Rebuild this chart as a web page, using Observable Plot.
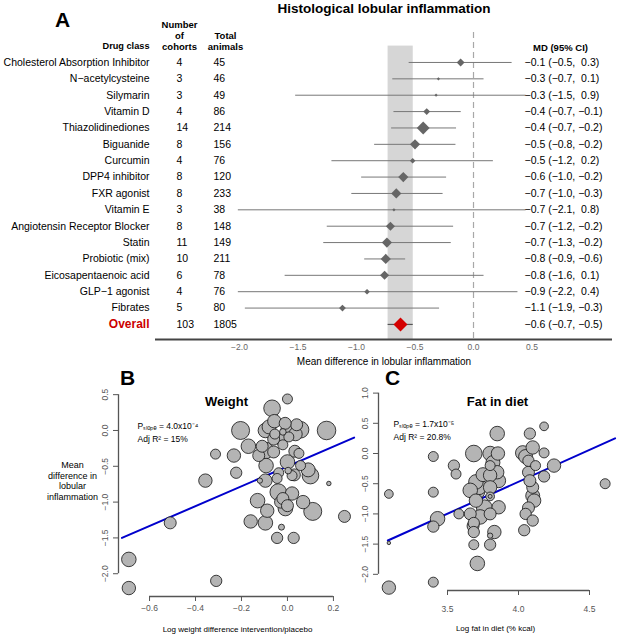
<!DOCTYPE html>
<html><head><meta charset="utf-8">
<script src="https://cdn.jsdelivr.net/npm/d3@7"></script>
<script src="https://cdn.jsdelivr.net/npm/@observablehq/plot@0.6"></script>
<style>
body{margin:0;background:#fff;}
#fig{position:relative;width:617px;height:636px;overflow:hidden;background:#fff;}
#fig > div{position:absolute;}
svg{overflow:visible;}
</style></head><body>
<div id="fig"><div id="pa" style="left:0;top:0"></div><div id="pb" style="left:0;top:365px"></div><div id="pc" style="left:355px;top:365px"></div></div>
<script>
const FONT = "'Liberation Sans', Arial, Helvetica, sans-serif";

// ---------- Panel A data ----------
const drugs = ["Cholesterol Absorption Inhibitor","N\u2212acetylcysteine","Silymarin","Vitamin D","Thiazolidinediones","Biguanide","Curcumin","DPP4 inhibitor","FXR agonist","Vitamin E","Angiotensin Receptor Blocker","Statin","Probiotic (mix)","Eicosapentaenoic acid","GLP\u22121 agonist","Fibrates"];
const cohorts = [4,3,3,4,14,8,4,8,8,3,8,11,10,6,4,5];
const animals = [45,46,49,86,214,156,76,120,233,38,148,149,211,78,76,80];
const md     = [-0.11,-0.30,-0.32,-0.40,-0.43,-0.50,-0.52,-0.60,-0.66,-0.68,-0.71,-0.74,-0.75,-0.76,-0.91,-1.12];
const ciLow  = [-0.55,-0.69,-1.52,-0.68,-0.70,-0.845,-1.21,-0.956,-1.04,-2.01,-1.25,-1.28,-0.93,-1.61,-2.01,-1.95];
const ciHigh = [0.33,0.09,0.9,-0.105,-0.145,-0.15,0.17,-0.23,-0.26,0.8,-0.17,-0.19,-0.58,0.09,0.38,-0.29];
const weights = [12,2,2,9,32,20,6,20,20,2,16,20,20,16,6,9];
const mdLabels = ["\u22120.1 (\u22120.5,  0.3)","\u22120.3 (\u22120.7,  0.1)","\u22120.3 (\u22121.5,  0.9)","\u22120.4 (\u22120.7, \u22120.1)","\u22120.4 (\u22120.7, \u22120.2)","\u22120.5 (\u22120.8, \u22120.2)","\u22120.5 (\u22121.2,  0.2)","\u22120.6 (\u22121.0, \u22120.2)","\u22120.7 (\u22121.0, \u22120.3)","\u22120.7 (\u22122.1,  0.8)","\u22120.7 (\u22121.2, \u22120.2)","\u22120.7 (\u22121.3, \u22120.2)","\u22120.8 (\u22120.9, \u22120.6)","\u22120.8 (\u22121.6,  0.1)","\u22120.9 (\u22122.2,  0.4)","\u22121.1 (\u22121.9, \u22120.3)"];
const overall = {name: "Overall", cohorts: 103, animals: 1805, md: -0.624, lo: -0.73, hi: -0.515, label: "\u22120.6 (\u22120.7, \u22120.5)"};
const xTicksA = [-2, -1.5, -1, -0.5, 0, 0.5];
const titleA = "Histological lobular inflammation";
const xLabelA = "Mean difference in lobular inflammation";
const ciClip = 0.45;

// ---------- Panel B data ----------
const bX = [0.00,-0.067,-0.204,0.17,-0.057,-0.096,0.0,0.057,0.035,-0.055,-0.02,-0.03,0.006,-0.17,-0.233,-0.096,-0.02,-0.06,0.032,-0.125,0.0,-0.093,0.057,0.10,-0.223,-0.038,0.02,-0.096,-0.045,0.003,-0.12,0.18,-0.04,0.02,-0.13,-0.03,0.068,-0.009,0.11,-0.088,0.248,-0.16,-0.096,-0.026,-0.045,0.027,-0.313,-0.357,-0.51,-0.69,-0.69,-0.31,-0.08,0.04,-0.01,0.09,-0.02,0.0,-0.11,0.05,-0.06,0.03];
const bY = [0.44,0.31,0.0,0.0,0.13,0.0,0.0,0.01,-0.05,-0.05,-0.02,-0.12,-0.09,-0.22,-0.35,-0.28,-0.2,-0.3,-0.29,-0.35,-0.44,-0.49,-0.49,-0.63,-0.59,-0.59,-0.63,-0.70,-0.67,-0.56,-0.70,-0.74,-0.86,-0.88,-0.98,-1.0,-1.0,-1.09,-1.13,-1.12,-1.2,-1.27,-1.29,-1.35,-1.5,-1.5,-0.33,-0.70,-1.29,-1.80,-2.2,-2.1,0.05,0.08,0.1,-0.55,-0.95,-1.05,-0.22,-0.32,-0.12,-0.62];
const bW = [25,69,81,86,45,53,45,69,45,25,11,36,25,53,45,69,25,36,36,36,53,53,25,69,32,25,25,45,25,11,7,5,69,45,53,36,45,53,81,45,36,45,53,9,32,32,25,45,36,53,45,32,49,36,36,49,36,36,36,25,36,36];
const bLineX = [-0.72, 0.29];
const bLineY = [-1.50, -0.10];
const xTicksB = [-0.6, -0.4, -0.2, 0.0, 0.2];
const yTicksB = [-2.0, -1.5, -1.0, -0.5, 0.0, 0.5];
const statsB = ["P\u209B\u2097\u2092\u209A\u2091 = 4.0x10\u207B\u2074", "Adj R\u00B2 = 15%"];

// ---------- Panel C data ----------
const cX = [4.18,3.85,4.08,3.685,3.80,3.855,4.03,4.10,4.18,3.40,4.07,3.80,3.545,3.56,4.25,4.12,3.85,3.80,4.07,4.18,3.70,3.66,3.80,4.10,3.40,3.80,3.80,3.70,3.86,4.11,3.73,3.66,3.80,3.58,3.43,3.40,4.05,4.10,4.04,3.685,3.685,3.83,3.80,3.685,3.80,3.71,3.40,3.087,3.087,3.087,4.61,3.72,3.75,3.82,3.76,3.68,4.08,4.10,4.07,4.05,3.86,3.70];
const cY = [0.45,0.33,0.33,0.0,0.0,0.0,0.01,0.10,0.01,-0.05,-0.12,-0.2,-0.2,-0.34,-0.2,-0.2,-0.31,-0.36,-0.31,-0.38,-0.47,-0.61,-0.56,-0.56,-0.64,-0.71,-0.71,-0.78,-0.89,-0.78,-1.05,-1.0,-1.0,-1.0,-1.08,-1.21,-1.0,-1.11,-1.27,-1.15,-1.30,-1.30,-1.36,-1.51,-1.51,-1.82,-2.13,-0.67,-1.48,-2.22,-0.50,-0.55,-0.35,-0.15,-0.9,-1.2,-0.45,-0.70,-0.9,-0.05,-0.45,-0.62];
const cW = [19,53,32,69,53,45,53,45,25,25,32,25,32,25,45,25,45,45,36,32,53,53,45,36,25,19,4,45,45,45,53,36,36,25,53,32,32,32,32,32,32,45,7,25,32,53,25,19,3,45,25,64,49,49,64,36,36,49,36,49,49,81];
const cLineX = [3.08, 4.68];
const cLineY = [-1.44, 0.25];
const xTicksC = [3.5, 4.0, 4.5];
const yTicksC = [-2.0, -1.5, -1.0, -0.5, 0.0, 0.5, 1.0];
const statsC = ["P\u209B\u2097\u2092\u209A\u2091 = 1.7x10\u207B\u2075", "Adj R\u00B2 = 20.8%"];

const fmt1 = d3.format(".1f");
const baseStyle = {fontFamily: FONT, fontSize: "10px", background: "transparent", overflow: "visible"};
const C_ = {textAnchor: "middle", lineAnchor: "middle"};

// ---------- Panel A ----------
const rows = drugs.map((name, i) => ({i, name, cohorts: cohorts[i], animals: animals[i], md: md[i], lo: ciLow[i], hi: ciHigh[i], w: weights[i], label: mdLabels[i]}));
const ov = {i: drugs.length, ...overall};
const all = [...rows, ov];
const yDomA = [-1.83, 16.92];
const xDomA = [-2.718, 1.188];
const bandTopRow = -1;

const A = Plot.plot({
  width: 617, height: 372,
  marginLeft: 155, marginRight: 5, marginTop: 32, marginBottom: 33,
  style: baseStyle,
  x: {domain: xDomA, label: null},
  y: {domain: yDomA, reverse: true, axis: null},
  r: {type: "sqrt", domain: [0, 32], range: [0, 5.8]},
  marks: [
    Plot.rect([ov], {x1: "lo", x2: "hi", y1: () => bandTopRow, y2: () => yDomA[1], fill: "#d6d6d6"}),
    Plot.ruleX([0], {stroke: "#a8a8a8", strokeDasharray: "6,4", strokeWidth: 1.2}),
    Plot.ruleY(rows, {y: "i", x1: "lo", x2: d => Math.min(d.hi, ciClip), stroke: "#777", strokeWidth: 1}),
    Plot.dot(rows, {x: "md", y: "i", r: "w", symbol: "diamond2", fill: "#666", stroke: "none"}),
    Plot.ruleY([ov], {y: "i", x1: "lo", x2: "hi", stroke: "#555", strokeWidth: 1.2}),
    Plot.dot([ov], {x: "md", y: "i", r: 6.3, symbol: "diamond2", fill: "#d40000", stroke: "none"}),
    Plot.text(rows, {y: "i", text: "name", frameAnchor: "left", dx: -6, textAnchor: "end", lineAnchor: "middle", fontSize: 10.5}),
    Plot.text([ov], {y: "i", text: "name", frameAnchor: "left", dx: -6, textAnchor: "end", lineAnchor: "middle", fontSize: 12, fontWeight: "bold", fill: "#cc0000"}),
    Plot.text(all, {y: "i", text: d => String(d.cohorts), frameAnchor: "left", dx: 21, textAnchor: "start", lineAnchor: "middle", fontSize: 10.5}),
    Plot.text(all, {y: "i", text: d => String(d.animals), frameAnchor: "left", dx: 58, textAnchor: "start", lineAnchor: "middle", fontSize: 10.5}),
    Plot.text(all, {y: "i", text: "label", frameAnchor: "right", dx: -88, textAnchor: "start", lineAnchor: "middle", fontSize: 10.5}),
    Plot.text(["A"], {frameAnchor: "top-left", dx: -93, dy: -12, ...C_, fontSize: 21, fontWeight: "bold"}),
    Plot.text([titleA], {frameAnchor: "top", dy: -24, ...C_, fontSize: 13.5, fontWeight: "bold"}),
    Plot.text(["Drug class"], {frameAnchor: "top-left", dx: -6, dy: 14, textAnchor: "end", lineAnchor: "middle", fontSize: 9.2, fontWeight: "bold"}),
    Plot.text(["Number\nof\ncohorts"], {frameAnchor: "top-left", dx: 24, dy: 3, ...C_, fontSize: 9.5, fontWeight: "bold", lineHeight: 1.15}),
    Plot.text(["Total\nanimals"], {frameAnchor: "top-left", dx: 70, dy: 8.5, ...C_, fontSize: 9.5, fontWeight: "bold", lineHeight: 1.15}),
    Plot.text(["MD (95% CI)"], {frameAnchor: "top-left", dx: 405, dy: 15, ...C_, fontSize: 9.5, fontWeight: "bold"}),
    Plot.ruleY([yDomA[1]], {stroke: "#444", strokeWidth: 2}),
    Plot.axisX({ticks: xTicksA, tickSize: 0, tickPadding: 4, tickFormat: fmt1, color: "#666", fontSize: 8.5, label: null}),
    Plot.text([xLabelA], {frameAnchor: "bottom", dy: 22, ...C_, fontSize: 10})
  ]
});
document.getElementById("pa").append(A);

// ---------- scatter panel builder ----------
function scatter(opts) {
  const pts = opts.xs.map((x, i) => ({x, y: opts.ys[i], w: opts.ws[i]}));
  const line = opts.lineX.map((x, i) => ({x, y: opts.lineY[i]}));
  const xt = opts.xTicks, yt = opts.yTicks;
  return Plot.plot({
    width: opts.width, height: 271,
    marginLeft: opts.ml, marginRight: opts.mr, marginTop: 20, marginBottom: opts.mb,
    style: baseStyle,
    x: {domain: opts.xDom, label: null},
    y: {domain: opts.yDom, label: null},
    r: {type: "sqrt", domain: [0, 100], range: [0, 10]},
    marks: [
      Plot.line(line, {x: "x", y: "y", stroke: "#0000cc", strokeWidth: 2}),
      Plot.dot(pts, {x: "x", y: "y", r: "w", fill: "#b4b4b4", stroke: "#111", strokeWidth: 0.8}),
      Plot.ruleY([opts.yDom[0]], {x1: xt[0], x2: xt[xt.length - 1], stroke: "#555", strokeWidth: 1.3}),
      Plot.axisX({ticks: xt, tickSize: 5, tickPadding: opts.xPad, tickFormat: fmt1, color: "#555", fontSize: 8.5, label: null}),
      Plot.ruleX([opts.xDom[0]], {y1: yt[0], y2: yt[yt.length - 1], stroke: "#555", strokeWidth: 1.3}),
      Plot.axisY({ticks: yt, tickSize: 5, tickFormat: () => "", color: "#555", label: null}),
      Plot.text(yt, {y: d => d, text: d => fmt1(d), frameAnchor: "left", dx: -13, rotate: -90, ...C_, fontSize: 8.5, fill: "#555"}),
      Plot.text([opts.letter], {frameAnchor: "top-left", dx: opts.letterDx, dy: -7, ...C_, fontSize: 21, fontWeight: "bold"}),
      Plot.text([opts.title], {frameAnchor: "top-left", dx: opts.titleDx, dy: 16, ...C_, fontSize: 13, fontWeight: "bold"}),
      Plot.text([opts.stats.join("\n")], {frameAnchor: "top-left", dx: opts.statsDx, dy: opts.statsDy, textAnchor: "start", lineAnchor: "top", fontSize: 8.5, lineHeight: 1.55}),
      Plot.text([opts.xLabel], {frameAnchor: "bottom-left", dx: opts.xLabelDx, dy: opts.xLabelDy, ...C_, fontSize: 8}),
      ...(opts.yLabel ? [Plot.text([opts.yLabel], {frameAnchor: "top-left", dx: -46, dy: 95, ...C_, fontSize: 9, lineHeight: 1.2})] : [])
    ]
  });
}

const B = scatter({
  xs: bX, ys: bY, ws: bW, lineX: bLineX, lineY: bLineY,
  xTicks: xTicksB, yTicks: yTicksB,
  width: 360, ml: 118, mr: 5, mb: 40,
  xDom: [-0.735, 0.296], yDom: [-2.318, 0.628], xPad: 3,
  letter: "B", letterDx: 9, title: "Weight", titleDx: 108,
  stats: statsB, statsDx: 19, statsDy: 34,
  xLabel: "Log weight difference intervention/placebo", xLabelDx: 119, xLabelDy: 33,
  yLabel: "Mean\ndifference in\nlobular\ninflammation"
});
document.getElementById("pb").append(B);

const C = scatter({
  xs: cX, ys: cY, ws: cW, lineX: cLineX, lineY: cLineY,
  xTicks: xTicksC, yTicks: yTicksC,
  width: 262, ml: 23, mr: 2, mb: 46,
  xDom: [3.014, 4.683], yDom: [-2.268, 1.126], xPad: 10,
  letter: "C", letterDx: 14, title: "Fat in diet", titleDx: 119,
  stats: statsC, statsDx: 15, statsDy: 32,
  xLabel: "Log fat in diet (% kcal)", xLabelDx: 117, xLabelDy: 38,
  yLabel: null
});
document.getElementById("pc").append(C);
</script>
</body></html>
